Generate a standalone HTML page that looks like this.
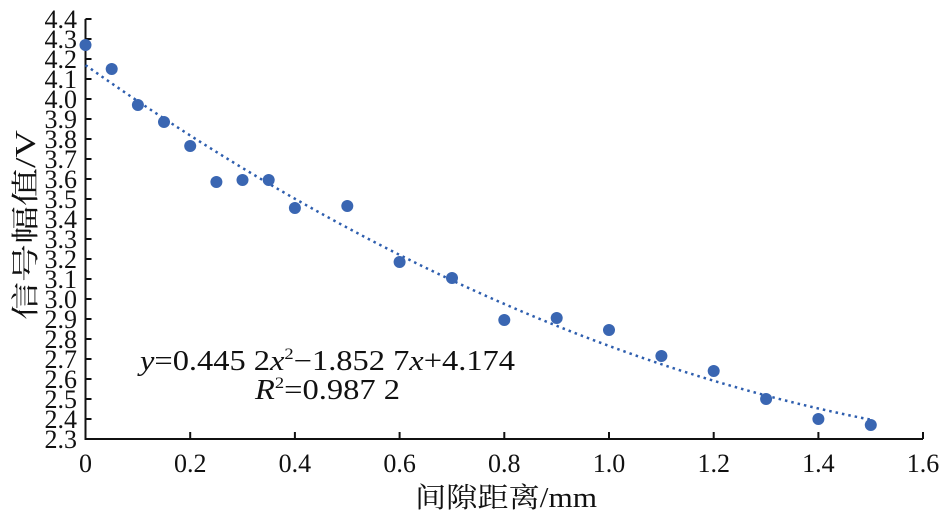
<!DOCTYPE html>
<html><head><meta charset="utf-8"><style>body{margin:0;background:#fff}</style></head><body>
<svg width="945" height="520" xmlns="http://www.w3.org/2000/svg" font-family="Liberation Serif, Noto Serif CJK SC, serif" fill="#111">
<g stroke="#111" stroke-width="2" fill="none">
<path d="M85.5,19 V439 H923"/>
<path d="M85.5,19h6M85.5,39h6M85.5,59h6M85.5,79h6M85.5,99h6M85.5,119h6M85.5,139h6M85.5,159h6M85.5,179h6M85.5,199h6M85.5,219h6M85.5,239h6M85.5,259h6M85.5,279h6M85.5,299h6M85.5,319h6M85.5,339h6M85.5,359h6M85.5,379h6M85.5,399h6M85.5,419h6"/>
<path d="M190.2,439v-7M294.9,439v-7M399.6,439v-7M504.3,439v-7M609,439v-7M713.7,439v-7M818.4,439v-7M923,439v-7"/>
</g>
<g font-size="26" text-anchor="end">
<text x="77" y="28">4.4</text><text x="77" y="48">4.3</text><text x="77" y="68">4.2</text><text x="77" y="88">4.1</text><text x="77" y="108">4.0</text><text x="77" y="128">3.9</text><text x="77" y="148">3.8</text><text x="77" y="168">3.7</text><text x="77" y="188">3.6</text><text x="77" y="208">3.5</text><text x="77" y="228">3.4</text><text x="77" y="248">3.3</text><text x="77" y="268">3.2</text><text x="77" y="288">3.1</text><text x="77" y="308">3.0</text><text x="77" y="328">2.9</text><text x="77" y="348">2.8</text><text x="77" y="368">2.7</text><text x="77" y="388">2.6</text><text x="77" y="408">2.5</text><text x="77" y="428">2.4</text><text x="77" y="448">2.3</text>
</g>
<g font-size="26" text-anchor="middle">
<text x="85.5" y="472">0</text><text x="190.2" y="472">0.2</text><text x="294.9" y="472">0.4</text><text x="399.6" y="472">0.6</text><text x="504.3" y="472">0.8</text><text x="609" y="472">1.0</text><text x="713.7" y="472">1.2</text><text x="818.4" y="472">1.4</text><text x="923" y="472">1.6</text>
</g>
<text x="415" y="507" font-size="28" textLength="182" lengthAdjust="spacingAndGlyphs">间隙距离/mm</text>
<text transform="translate(35,320) rotate(-90)" font-size="28" textLength="190" lengthAdjust="spacingAndGlyphs">信号幅值/V</text>
<path d="M85.5,65.1 Q478.1,342.3 870.8,419.7" stroke="#2e5eae" stroke-width="2.5" stroke-dasharray="2.5,4" fill="none"/>
<g fill="#3a66b2">
<circle cx="85.5" cy="45" r="6"/><circle cx="111.7" cy="69" r="6"/><circle cx="137.9" cy="105" r="6"/><circle cx="164" cy="122" r="6"/><circle cx="190.2" cy="146" r="6"/><circle cx="216.4" cy="182" r="6"/><circle cx="242.5" cy="180" r="6"/><circle cx="268.7" cy="180" r="6"/><circle cx="294.9" cy="208" r="6"/><circle cx="347.3" cy="206" r="6"/><circle cx="399.6" cy="262" r="6"/><circle cx="452" cy="278" r="6"/><circle cx="504.3" cy="320" r="6"/><circle cx="556.7" cy="318" r="6"/><circle cx="609" cy="330" r="6"/><circle cx="661.4" cy="356" r="6"/><circle cx="713.7" cy="371" r="6"/><circle cx="766.1" cy="399" r="6"/><circle cx="818.4" cy="419" r="6"/><circle cx="870.8" cy="425" r="6"/>
</g>
<text x="140" y="370" font-size="28" textLength="375" lengthAdjust="spacingAndGlyphs"><tspan font-style="italic">y</tspan>=0.445 2<tspan font-style="italic">x</tspan><tspan font-size="16" dy="-11">2</tspan><tspan dy="11">−1.852 7</tspan><tspan font-style="italic">x</tspan>+4.174</text>
<text x="255" y="399" font-size="28" textLength="145" lengthAdjust="spacingAndGlyphs"><tspan font-style="italic">R</tspan><tspan font-size="16" dy="-11">2</tspan><tspan dy="11">=0.987 2</tspan></text>
</svg>
</body></html>
